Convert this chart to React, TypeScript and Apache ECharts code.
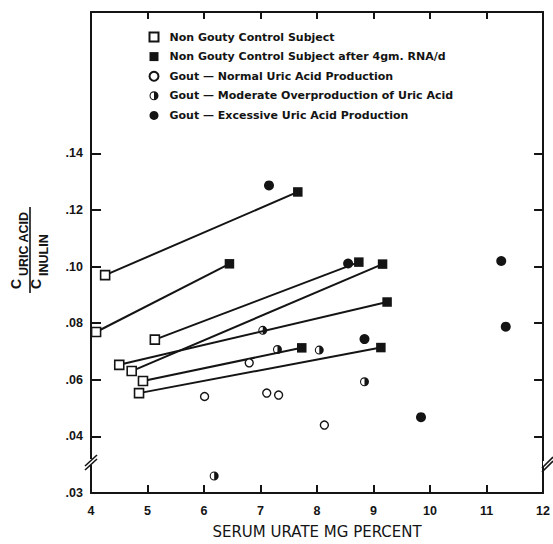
import React, { useEffect, useRef } from "react";
import * as echarts from "echarts";

// ---- data (x: serum urate mg %, y: C uric acid / C inulin) ----
const xTicks = [4, 5, 6, 7, 8, 9, 10, 11, 12];
const yTickValues = [0.03, 0.04, 0.06, 0.08, 0.1, 0.12, 0.14];

const seriesNames = [
  "Non Gouty Control Subject",
  "Non Gouty Control Subject after 4gm. RNA/d",
  "Gout — Normal Uric Acid Production",
  "Gout — Moderate Overproduction of Uric Acid",
  "Gout — Excessive Uric Acid Production",
];

// control subjects: before (open square) and after RNA (filled square), paired by index
const controlBefore = [
  [4.25, 0.097],
  [4.09, 0.0769],
  [5.13, 0.0742],
  [4.5, 0.0653],
  [4.72, 0.0631],
  [4.92, 0.0596],
  [4.85, 0.0553],
];
const controlAfter = [
  [7.66, 0.1264],
  [6.45, 0.101],
  [8.74, 0.1016],
  [9.24, 0.0875],
  [9.16, 0.1009],
  [7.73, 0.0713],
  [9.13, 0.0714],
];
const goutNormal = [
  [6.8, 0.066],
  [7.11, 0.0553],
  [7.32, 0.0546],
  [6.01, 0.0541],
  [8.13, 0.044],
];
const goutModerate = [
  [7.04, 0.0775],
  [7.3, 0.0707],
  [8.04, 0.0705],
  [8.84, 0.0593],
  [6.18, 0.033],
];
const goutExcessive = [
  [7.15, 0.1287],
  [8.55, 0.1011],
  [8.84, 0.0744],
  [11.26, 0.102],
  [11.34, 0.0788],
  [9.84, 0.0468],
];

// broken axis: the .03-.04 band is drawn twice as tall as the others
const BREAK = 0.04;
const tr = (v: number) => (v >= BREAK ? v : BREAK - (BREAK - v) * 2);
const untr = (v: number) => (v >= BREAK - 1e-9 ? v : BREAK - (BREAK - v) / 2);
const pt = (p: number[]) => [p[0], tr(p[1])];

const HALF =
  "path://M0,-10A10,10 0 1,1 0,10A10,10 0 1,1 0,-10ZM0,-7.6A7.6,7.6 0 1,0 0,7.6A7.6,7.6 0 1,0 0,-7.6ZM0,-7.6A7.6,7.6 0 0,1 0,7.6Z";

const FONT = "'Liberation Sans', Arial, Helvetica, sans-serif";
const WIDE = "'DejaVu Sans', sans-serif";
const INK = "#141414";

export default function App() {
  const ref = useRef<HTMLDivElement>(null);
  useEffect(() => {
    if (!ref.current) return;
    const chart = echarts.init(ref.current, undefined, { renderer: "svg" });

    const yCustom = yTickValues.map(tr);
    const yFmt = (v: number) => {
      const real = untr(v);
      return "." + String(Math.round(real * 100)).padStart(2, "0");
    };

    const pairLines = controlBefore.map((b, i) => ({
      type: "line",
      data: [pt(b), pt(controlAfter[i])],
      symbol: "none",
      lineStyle: { color: INK, width: 2 },
      silent: true,
      z: 1,
      legendHoverLink: false,
    }));

    const scatterBase = { type: "scatter", z: 3, silent: true };

    const option: any = {
      animation: false,
      backgroundColor: "#fff",
      textStyle: { fontFamily: FONT },
      grid: { left: 91, right: 5, top: 12, bottom: 46 },
      legend: {
        data: seriesNames,
        orient: "vertical",
        left: 148.5,
        top: 31,
        itemWidth: 9,
        itemHeight: 9,
        itemGap: 7.6,
        padding: 0,
        selectedMode: false,
        textStyle: {
          fontSize: 11,
          fontWeight: "bold",
          fontFamily: WIDE,
          color: INK,
          lineHeight: 12,
          padding: [0, 0, 0, 6],
        },
      },
      xAxis: [
        {
          type: "value",
          min: xTicks[0],
          max: xTicks[xTicks.length - 1],
          interval: 1,
          position: "bottom",
          axisLine: { lineStyle: { color: INK, width: 2 } },
          axisTick: { inside: true, length: 8, lineStyle: { color: INK, width: 2 } },
          axisLabel: { margin: 11, fontSize: 12.5, fontWeight: "bold", color: INK, fontFamily: FONT },
          splitLine: { show: false },
          name: "SERUM URATE MG PERCENT",
          nameLocation: "middle",
          nameGap: 31,
          nameTextStyle: { fontSize: 15, color: INK, fontFamily: WIDE },
        },
        {
          type: "value",
          min: xTicks[0],
          max: xTicks[xTicks.length - 1],
          interval: 1,
          position: "top",
          axisLine: { lineStyle: { color: INK, width: 2 } },
          axisTick: { inside: true, length: 7, lineStyle: { color: INK, width: 2 } },
          axisLabel: { show: false },
          splitLine: { show: false },
        },
      ],
      yAxis: [
        {
          type: "value",
          min: tr(0.03),
          max: 0.19,
          position: "left",
          axisLine: { show: true, lineStyle: { color: INK, width: 2 } },
          axisTick: { show: true, inside: true, length: 10, customValues: yCustom, lineStyle: { color: INK, width: 2 } },
          axisLabel: {
            customValues: yCustom,
            formatter: yFmt,
            margin: 8,
            fontSize: 12.5,
            fontWeight: "bold",
            color: INK,
            fontFamily: FONT,
          },
          splitLine: { show: false },
        },
        {
          type: "value",
          min: tr(0.03),
          max: 0.19,
          position: "right",
          axisLine: { show: true, lineStyle: { color: INK, width: 2 } },
          axisTick: { show: true, inside: true, length: 9, customValues: yCustom, lineStyle: { color: INK, width: 2 } },
          axisLabel: { show: false },
          splitLine: { show: false },
        },
      ],
      series: [
        ...pairLines,
        {
          ...scatterBase,
          name: seriesNames[0],
          data: controlBefore.map(pt),
          symbol: "rect",
          symbolSize: 9,
          itemStyle: { color: "#fff", borderColor: INK, borderWidth: 1.6, opacity: 1 },
        },
        {
          ...scatterBase,
          name: seriesNames[1],
          data: controlAfter.map(pt),
          symbol: "rect",
          symbolSize: 9.5,
          itemStyle: { color: INK, opacity: 1 },
        },
        {
          ...scatterBase,
          name: seriesNames[2],
          data: goutNormal.map(pt),
          symbol: "circle",
          symbolSize: 8,
          itemStyle: { color: "#fff", borderColor: INK, borderWidth: 1.4, opacity: 1 },
        },
        {
          ...scatterBase,
          name: seriesNames[3],
          data: goutModerate.map(pt),
          symbol: HALF,
          symbolSize: 9,
          itemStyle: { color: INK, opacity: 1 },
        },
        {
          ...scatterBase,
          name: seriesNames[4],
          data: goutExcessive.map(pt),
          symbol: "circle",
          symbolSize: 10,
          itemStyle: { color: INK, opacity: 1 },
        },
      ],
      graphic: [
        // axis break marks
        { type: "rect", shape: { x: 86, y: 459, width: 10, height: 6 }, style: { fill: "#fff" }, z: 100 },
        { type: "line", shape: { x1: 85, y1: 466, x2: 97, y2: 455 }, style: { stroke: INK, lineWidth: 1.6 }, z: 101 },
        { type: "line", shape: { x1: 85, y1: 470, x2: 97, y2: 459 }, style: { stroke: INK, lineWidth: 1.6 }, z: 101 },
        { type: "rect", shape: { x: 543, y: 461, width: 10, height: 6 }, style: { fill: "#fff" }, z: 100 },
        { type: "line", shape: { x1: 542, y1: 468, x2: 553, y2: 457 }, style: { stroke: INK, lineWidth: 1.6 }, z: 101 },
        { type: "line", shape: { x1: 542, y1: 472, x2: 553, y2: 461 }, style: { stroke: INK, lineWidth: 1.6 }, z: 101 },
        // y axis title: C(uric acid) / C(inulin), rotated
        {
          type: "text",
          x: 15.5,
          y: 289,
          rotation: Math.PI / 2,
          style: { text: "C", font: `bold 14px ${FONT}`, fill: INK, align: "left", verticalAlign: "middle", textAlign: "left", textVerticalAlign: "middle" },
        },
        {
          type: "text",
          x: 23.5,
          y: 276,
          rotation: Math.PI / 2,
          style: { text: "URIC ACID", font: `bold 12.5px ${FONT}`, fill: INK, align: "left", verticalAlign: "middle", textAlign: "left", textVerticalAlign: "middle" },
        },
        { type: "line", shape: { x1: 30, y1: 207, x2: 30, y2: 293 }, style: { stroke: INK, lineWidth: 1.6 } },
        {
          type: "text",
          x: 36,
          y: 289,
          rotation: Math.PI / 2,
          style: { text: "C", font: `bold 14px ${FONT}`, fill: INK, align: "left", verticalAlign: "middle", textAlign: "left", textVerticalAlign: "middle" },
        },
        {
          type: "text",
          x: 43.5,
          y: 276,
          rotation: Math.PI / 2,
          style: { text: "INULIN", font: `bold 12.5px ${FONT}`, fill: INK, align: "left", verticalAlign: "middle", textAlign: "left", textVerticalAlign: "middle" },
        },
      ],
    };

    chart.setOption(option);
    return () => chart.dispose();
  }, []);

  return (
    <div
      ref={ref}
      style={{ position: "absolute", left: 0, top: 0, width: 553, height: 544, background: "#fff" }}
    />
  );
}
